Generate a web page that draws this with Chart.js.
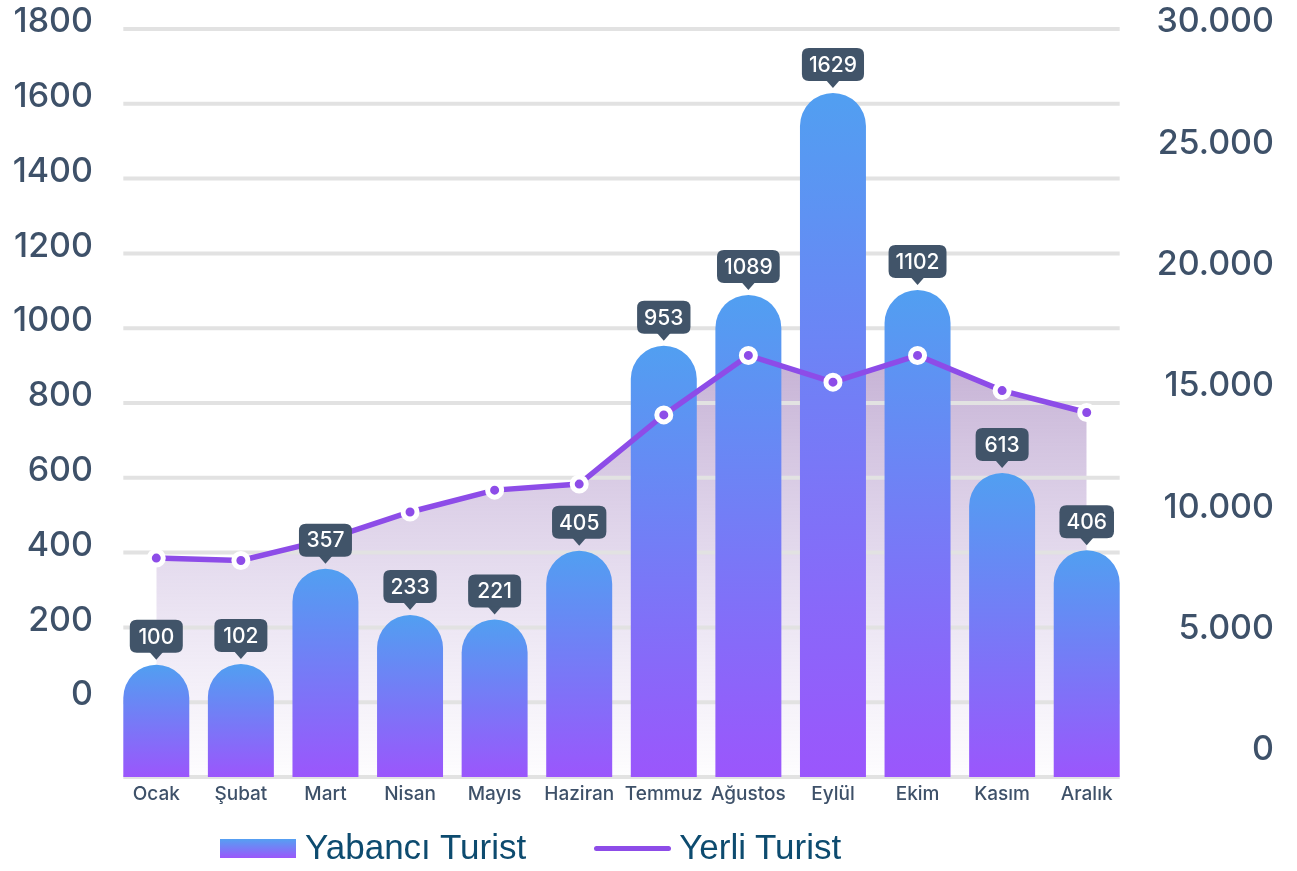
<!DOCTYPE html>
<html lang="tr">
<head>
<meta charset="utf-8">
<title>Turist</title>
<script src="https://cdn.jsdelivr.net/npm/chart.js@4"></script>
<style>
    html, body { margin: 0; padding: 0; background: #fff; }
    #wrap { position: relative; width: 1297px; height: 871px; }
    #legend { position: absolute; left: 220px; top: 827px; display: flex; align-items: center;
        font-family: 'Liberation Sans', Arial, sans-serif; font-size: 35px; color: #0d4b6f; }
    .legendBox { width: 76px; height: 19px; margin-right: 9px; margin-top: 3px;
        background: linear-gradient(to bottom, #55a0f2, #9b57fb); }
    .legendLine { width: 77px; height: 5px; border-radius: 3px; margin-left: 68px; margin-right: 8px; margin-top: 3px;
        background: #8d4ce8; }
</style>
</head>
<body>
<div id="wrap">
    <canvas id="turistChart" width="1297" height="871"></canvas>
    <div id="legend">
        <span class="legendBox"></span><span>Yabancı Turist</span>
        <span class="legendLine"></span><span>Yerli Turist</span>
    </div>
</div>
<script>
const aylar = ['Ocak', 'Şubat', 'Mart', 'Nisan', 'Mayıs', 'Haziran', 'Temmuz', 'Ağustos', 'Eylül', 'Ekim', 'Kasım', 'Aralık'];
const yabanciTurist = [100, 102, 357, 233, 221, 405, 953, 1089, 1629, 1102, 613, 406];
const yerliTurist = [8200, 8100, 8950, 10100, 11000, 11250, 14100, 16550, 15450, 16550, 15100, 14200];

const leftTicks = [0, 200, 400, 600, 800, 1000, 1200, 1400, 1600, 1800];
const leftTickLabels = ['0', '200', '400', '600', '800', '1000', '1200', '1400', '1600', '1800'];
const rightTicks = [0, 5000, 10000, 15000, 20000, 25000, 30000];
const rightTickLabels = ['0', '5.000', '10.000', '15.000', '20.000', '25.000', '30.000'];
const gridValues = [-200, 0, 200, 400, 600, 800, 1000, 1200, 1400, 1600, 1800];

const axisColor = '#3e5169';

Chart.defaults.font.family = 'Inter, "Noto Sans", sans-serif';

function barGradient(context) {
    let chart = context.chart;
    let area = chart.chartArea;
    if (!area || context.type !== 'data') {
        return '#6a86f4';
    }
    let top = chart.scales.y.getPixelForValue(context.raw);
    let g = chart.ctx.createLinearGradient(0, top, 0, area.bottom);
    g.addColorStop(0, '#519ff1');
    g.addColorStop(1, '#9b56fc');
    return g;
}

function fillGradient(context) {
    let chart = context.chart;
    let area = chart.chartArea;
    if (!area) {
        return 'rgba(150,110,180,0.2)';
    }
    let top = chart.scales.y2.getPixelForValue(Math.max.apply(null, yerliTurist));
    let g = chart.ctx.createLinearGradient(0, top, 0, area.bottom);
    g.addColorStop(0, 'rgba(140,100,170,0.5)');
    g.addColorStop(1, 'rgba(170,140,210,0.02)');
    return g;
}

function roundBox(ctx, x, y, w, h, r) {
    ctx.beginPath();
    ctx.moveTo(x + r, y);
    ctx.lineTo(x + w - r, y);
    ctx.quadraticCurveTo(x + w, y, x + w, y + r);
    ctx.lineTo(x + w, y + h - r);
    ctx.quadraticCurveTo(x + w, y + h, x + w - r, y + h);
    ctx.lineTo(x + r, y + h);
    ctx.quadraticCurveTo(x, y + h, x, y + h - r);
    ctx.lineTo(x, y + r);
    ctx.quadraticCurveTo(x, y, x + r, y);
    ctx.closePath();
}

// y axes: no extra room for half labels at top / bottom
function noEdgePadding(scale) {
    scale.paddingTop = 0;
    scale.paddingBottom = 0;
}

// grid lines only as wide as the bars
const gridLines = {
    id: 'gridLines',
    beforeDatasetsDraw(chart) {
        let bars = chart.getDatasetMeta(1).data;
        let first = bars[0];
        let last = bars[bars.length - 1];
        let x1 = first.x - first.width / 2;
        let x2 = last.x + last.width / 2;
        let ctx = chart.ctx;
        ctx.save();
        ctx.strokeStyle = '#e2e2e2';
        ctx.lineWidth = 4;
        gridValues.forEach(function (v) {
            let y = chart.scales.y.getPixelForValue(v);
            ctx.beginPath();
            ctx.moveTo(x1, y);
            ctx.lineTo(x2, y);
            ctx.stroke();
        });
        ctx.restore();
    }
};

// dark value tags above every bar
const valueTags = {
    id: 'valueTags',
    afterDatasetsDraw(chart) {
        let bars = chart.getDatasetMeta(1).data;
        let ctx = chart.ctx;
        ctx.save();
        ctx.font = '500 21px Inter, "Noto Sans", sans-serif';
        ctx.textAlign = 'center';
        ctx.textBaseline = 'middle';
        bars.forEach(function (bar, i) {
            let text = String(yabanciTurist[i]);
            let w = Math.max(53, ctx.measureText(text).width + 14);
            let h = 33;
            let tipY = bar.y - 5;
            let boxBottom = tipY - 7;
            ctx.fillStyle = '#415469';
            roundBox(ctx, bar.x - w / 2, boxBottom - h, w, h, 7);
            ctx.fill();
            ctx.beginPath();
            ctx.moveTo(bar.x - 7, boxBottom - 1);
            ctx.lineTo(bar.x + 7, boxBottom - 1);
            ctx.lineTo(bar.x, tipY);
            ctx.closePath();
            ctx.fill();
            ctx.fillStyle = '#ffffff';
            ctx.fillText(text, bar.x, boxBottom - h / 2 + 1);
        });
        ctx.restore();
    }
};

new Chart(document.getElementById('turistChart'), {
    data: {
        labels: aylar,
        datasets: [{
            type: 'line',
            label: 'Yerli Turist',
            data: yerliTurist,
            yAxisID: 'y2',
            order: 0,
            borderColor: '#8d4ce8',
            borderWidth: 5.5,
            tension: 0,
            fill: 'start',
            backgroundColor: fillGradient,
            pointRadius: 7,
            pointBackgroundColor: '#8d4ce8',
            pointBorderColor: '#ffffff',
            pointBorderWidth: 5
        }, {
            type: 'bar',
            label: 'Yabancı Turist',
            data: yabanciTurist,
            yAxisID: 'y',
            order: 1,
            base: -200,
            backgroundColor: barGradient,
            borderRadius: {topLeft: 40, topRight: 40, bottomLeft: 0, bottomRight: 0},
            borderSkipped: 'start',
            categoryPercentage: 1,
            barPercentage: 0.78
        }]
    },
    options: {
        responsive: false,
        animation: false,
        layout: {
            padding: {top: 29, right: 23, bottom: 0, left: 0}
        },
        plugins: {
            legend: {display: false},
            tooltip: {enabled: false},
            filler: {drawTime: 'beforeDatasetsDraw'}
        },
        scales: {
            x: {
                grid: {display: false, drawTicks: false},
                border: {display: false},
                ticks: {
                    color: axisColor,
                    font: {size: 19, weight: '500'},
                    padding: 6,
                    maxRotation: 0,
                    autoSkip: false
                },
                afterFit: function (scale) {
                    scale.height = 94;
                }
            },
            y: {
                position: 'left',
                min: -200,
                max: 1800,
                grid: {display: false},
                border: {display: false},
                afterBuildTicks: function (scale) {
                    scale.ticks = leftTicks.map(function (v) { return {value: v}; });
                },
                ticks: {
                    color: axisColor,
                    font: {size: 34, weight: '500'},
                    padding: 13,
                    labelOffset: -7,
                    callback: function (value) {
                        let i = leftTicks.indexOf(value);
                        return i >= 0 ? leftTickLabels[i] : '';
                    }
                },
                afterFit: function (scale) {
                    scale.width = 114;
                    noEdgePadding(scale);
                }
            },
            y2: {
                position: 'right',
                min: -820,
                max: 30000,
                grid: {display: false},
                border: {display: false},
                afterBuildTicks: function (scale) {
                    scale.ticks = rightTicks.map(function (v) { return {value: v}; });
                },
                ticks: {
                    color: axisColor,
                    font: {size: 34, weight: '500'},
                    padding: 20,
                    crossAlign: 'far',
                    labelOffset: -7,
                    callback: function (value) {
                        let i = rightTicks.indexOf(value);
                        return i >= 0 ? rightTickLabels[i] : '';
                    }
                },
                afterFit: function (scale) {
                    scale.width = 145;
                    noEdgePadding(scale);
                }
            }
        }
    },
    plugins: [gridLines, valueTags]
});
</script>
</body>
</html>
